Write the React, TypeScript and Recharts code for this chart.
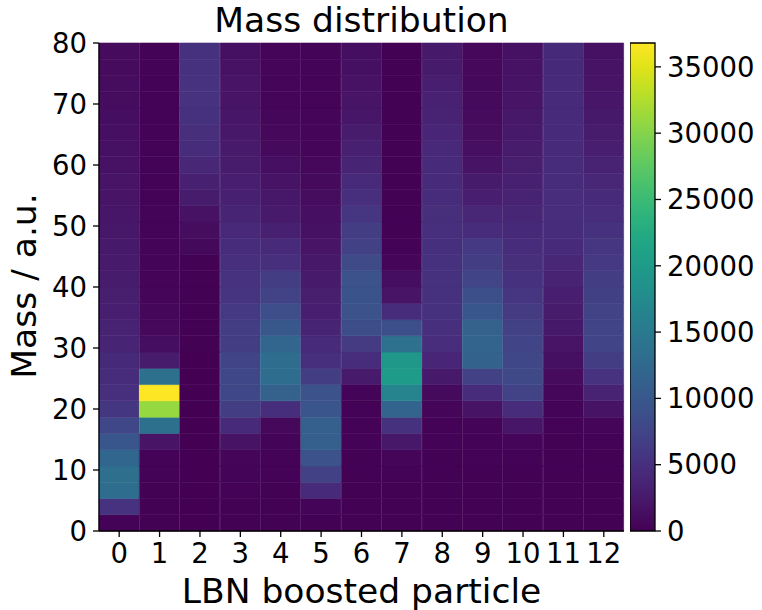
import React from 'react';
import { BarChart, Bar, Cell, XAxis, YAxis } from 'recharts';

// x categories and axis ticks
const particles = ['0', '1', '2', '3', '4', '5', '6', '7', '8', '9', '10', '11', '12'];
const massTicks = [0, 10, 20, 30, 40, 50, 60, 70, 80];
const countTicks = [0, 5000, 10000, 15000, 20000, 25000, 30000, 35000];

// 30 mass bins from 0 to 80
const massMax = 80;
const nBins = 30;
const binWidth = massMax / nBins;
const countMax = 36800;

// entries per mass bin (low mass -> high mass), one list per particle
const col0 = [200, 5300, 13000, 13300, 12200, 9700, 7700, 5800, 5000, 4600, 4300, 3700, 3500, 3100, 3000, 2800, 2600, 2500, 2300, 2200, 2000, 1900, 1700, 1600, 1400, 1300, 1200, 1100, 1000, 1000];
const col1 = [150, 150, 150, 200, 250, 2000, 13500, 31000, 36800, 13500, 2800, 1300, 700, 600, 400, 350, 300, 300, 300, 300, 250, 250, 250, 250, 200, 200, 200, 200, 200, 200];
const col2 = [50, 50, 50, 50, 50, 50, 50, 50, 50, 50, 50, 60, 70, 80, 100, 120, 150, 800, 1200, 1700, 2800, 3300, 4000, 4600, 4900, 5200, 5300, 5300, 5200, 5200];
const col3 = [100, 150, 200, 300, 500, 1800, 4400, 6600, 7700, 7700, 7400, 6600, 6600, 6100, 5500, 5300, 5000, 4600, 4100, 3700, 3300, 3100, 2800, 2600, 2400, 2200, 2000, 1900, 1700, 1500];
const col4 = [100, 100, 150, 200, 250, 300, 700, 4800, 11400, 13000, 13000, 12000, 10000, 8700, 7200, 6600, 5000, 4500, 3200, 2600, 2400, 1800, 1400, 900, 700, 600, 550, 500, 450, 400];
const col5 = [100, 300, 4400, 7000, 9200, 11000, 11000, 9600, 9200, 6600, 5000, 4400, 3700, 3100, 3000, 2600, 2300, 2000, 1600, 1400, 1100, 900, 700, 500, 450, 400, 350, 350, 300, 300];
const col6 = [100, 100, 100, 150, 150, 200, 200, 250, 300, 2600, 4600, 6300, 8500, 9200, 9400, 9200, 8100, 7000, 6600, 5700, 5000, 4400, 3700, 3300, 2800, 2200, 1900, 1700, 1500, 1300];
const col7 = [100, 100, 150, 200, 500, 2400, 5200, 11800, 16600, 20000, 19500, 13700, 8800, 4600, 2000, 1300, 550, 200, 150, 150, 150, 150, 150, 150, 150, 150, 150, 150, 150, 150];
const col8 = [100, 100, 100, 150, 150, 200, 200, 400, 900, 2500, 3800, 4700, 5000, 5200, 5200, 5200, 5200, 5100, 5000, 4900, 4600, 4500, 4400, 4100, 3800, 3600, 3400, 3100, 2700, 2500];
const col9 = [100, 100, 150, 150, 200, 250, 300, 1800, 4600, 7000, 11600, 11800, 11400, 9800, 8800, 7500, 6600, 6100, 4600, 4000, 3100, 2700, 1800, 1400, 1200, 1000, 900, 800, 700, 700];
const col10 = [100, 100, 150, 150, 200, 400, 2200, 4600, 7200, 8000, 7800, 7500, 7000, 6300, 5700, 5200, 4900, 4600, 4300, 3900, 3600, 3300, 3000, 2800, 2500, 2300, 2000, 1800, 1700, 1600];
const col11 = [100, 100, 100, 150, 150, 150, 200, 300, 600, 1000, 1500, 2000, 2500, 2800, 3100, 3600, 4000, 4400, 4600, 4700, 4700, 4600, 4600, 4500, 4500, 4400, 4400, 4400, 4300, 4300];
const col12 = [100, 100, 100, 150, 150, 200, 500, 1800, 3500, 5300, 6700, 7400, 7400, 7200, 6900, 6500, 6100, 5700, 5200, 4700, 4400, 4000, 3500, 3100, 2800, 2500, 2200, 2000, 1800, 1600];

const counts = [col0, col1, col2, col3, col4, col5, col6, col7, col8, col9, col10, col11, col12];

// viridis, sampled every 0.05
const VIRIDIS = [
  '#440154', '#471365', '#482475', '#463480', '#414487', '#3b528b', '#355f8d',
  '#2f6c8e', '#2a788e', '#25848e', '#21918c', '#1e9c89', '#22a884', '#2fb47c',
  '#44bf70', '#5ec962', '#7ad151', '#9bd93c', '#bddf26', '#dfe318', '#fde725'
];

function hexToRgb(h: string) {
  return [1, 3, 5].map(i => parseInt(h.slice(i, i + 2), 16));
}

function viridis(t: number) {
  const v = Math.max(0, Math.min(1, t)) * (VIRIDIS.length - 1);
  const i = Math.min(Math.floor(v), VIRIDIS.length - 2);
  const f = v - i;
  const a = hexToRgb(VIRIDIS[i]);
  const b = hexToRgb(VIRIDIS[i + 1]);
  const c = a.map((x, j) => Math.round(x + (b[j] - x) * f));
  return `rgb(${c[0]},${c[1]},${c[2]})`;
}

const bins = Array.from({ length: nBins }, (_, k) => k);

const rows = particles.map(p => {
  const row: any = { particle: p };
  bins.forEach(k => {
    row[`m${k}`] = binWidth;
  });
  return row;
});

const font = 'DejaVu Sans, sans-serif';
const tickStyle = { fill: '#000', fontSize: 27.5 };
const labelSize = 34.5;

export default function App() {
  return <div style={{
    position: 'absolute',
    left: 0,
    top: 0,
    width: 762,
    height: 610,
    background: '#fff',
    fontFamily: font
  }}>
      <div style={{ position: 'absolute', left: 0, top: 0 }}>
        <BarChart width={762} height={610} data={rows} margin={{
        top: 43,
        right: 138,
        bottom: 49,
        left: 0
      }} barCategoryGap={0} barGap={0}>
          {bins.map(k => <Bar key={k} dataKey={`m${k}`} stackId="h" isAnimationActive={false}>
              {counts.map((col, i) => {
            const c = viridis(col[k] / countMax);
            return <Cell key={i} fill={c} stroke={c} strokeWidth={0.6} />;
          })}
            </Bar>)}
          <XAxis dataKey="particle" interval={0} height={30} tickSize={6} tickMargin={6} stroke="#000" strokeWidth={1.3} tick={tickStyle} />
          <XAxis xAxisId="top" orientation="top" dataKey="particle" height={0} tick={false} tickLine={false} stroke="#000" strokeWidth={1.3} />
          <YAxis type="number" domain={[0, massMax]} ticks={massTicks} width={99} tickSize={6} tickMargin={6} stroke="#000" strokeWidth={1.3} tick={tickStyle} />
          <YAxis yAxisId="right" orientation="right" type="number" domain={[0, massMax]} width={0} tick={false} tickLine={false} stroke="#000" strokeWidth={1.3} />
        </BarChart>
      </div>

      <div style={{ position: 'absolute', left: 630, top: 0 }}>
        <BarChart width={132} height={610} data={[{ name: 'cb', c: countMax }]} margin={{
        top: 43,
        right: 0,
        bottom: 79,
        left: 0
      }} barCategoryGap={0}>
          <defs>
            <linearGradient id="viridisGrad" x1="0" y1="1" x2="0" y2="0">
              {VIRIDIS.map((col, i) => <stop key={i} offset={`${i / (VIRIDIS.length - 1) * 100}%`} stopColor={col} />)}
            </linearGradient>
          </defs>
          <Bar dataKey="c" fill="url(#viridisGrad)" stroke="#000" strokeWidth={1.3} isAnimationActive={false} />
          <XAxis dataKey="name" hide />
          <YAxis orientation="right" type="number" domain={[0, countMax]} ticks={countTicks} width={107} tickSize={6} tickMargin={6} axisLine={false} stroke="#000" strokeWidth={1.3} tick={tickStyle} />
        </BarChart>
      </div>

      <svg width={762} height={610} style={{
      position: 'absolute',
      left: 0,
      top: 0,
      pointerEvents: 'none'
    }}>
        <text x={361.5} y={32} textAnchor="middle" fontSize={labelSize} fill="#000">Mass distribution</text>
        <text x={361.5} y={603} textAnchor="middle" fontSize={labelSize} fill="#000">LBN boosted particle</text>
        <text transform="translate(36,286) rotate(-90)" textAnchor="middle" fontSize={labelSize} fill="#000">Mass / a.u.</text>
      </svg>
    </div>;
}
